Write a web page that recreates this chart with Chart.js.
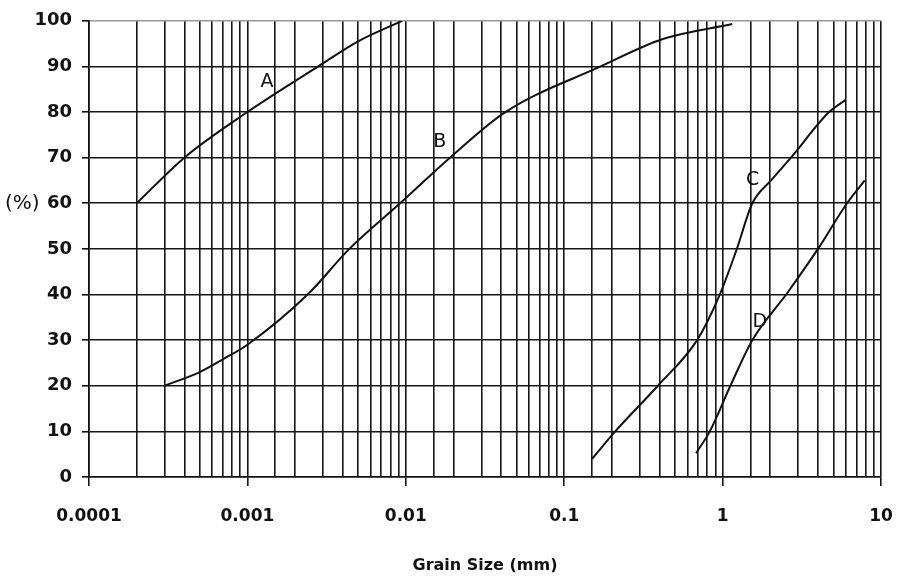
<!DOCTYPE html>
<html>
<head>
<meta charset="utf-8">
<script src="https://cdn.jsdelivr.net/npm/chart.js@4.4.0/dist/chart.umd.min.js"></script>
<style>
  html, body { margin: 0; padding: 0; background: #fff; }
  #wrap { width: 900px; height: 576px; }
</style>
</head>
<body>
<div id="wrap"><canvas id="chart"></canvas></div>
<script>
// grain size (mm) and percent finer
var sizeA = [0.0002, 0.0004, 0.001, 0.0028, 0.005, 0.0095];
var passA = [60, 70, 80, 90, 95.5, 100];

var sizeB = [0.0003, 0.0005, 0.0007, 0.001, 0.0024, 0.0044, 0.0092, 0.019, 0.0425, 0.17, 0.42, 1.15];
var passB = [20, 23, 25.8, 29, 40, 50, 60, 70, 80, 90, 96, 99.3];

var sizeC = [0.15, 0.21, 0.39, 0.69, 0.96, 1.23, 1.54, 2.02, 2.7, 4.7, 6.0];
var passC = [4, 10, 20, 30, 40, 50, 60, 65, 70, 80, 82.7];

var sizeD = [0.68, 0.83, 1.12, 1.54, 2.58, 4.0, 6.1, 7.9];
var passD = [5.2, 10, 20, 30, 40.5, 50, 60, 65];

// where the hand-written curve names sit
var curveNames = ['A', 'B', 'C', 'D'];
var nameSize = [0.00133, 0.0164, 1.55, 1.72];
var namePass = [86.6, 73.4, 65, 34];

var xMin = 0.0001, xMax = 10;
var yTicks = [0, 10, 20, 30, 40, 50, 60, 70, 80, 90, 100];

function toPoints(xs, ys) {
  return xs.map(function(x, i) { return { x: x, y: ys[i] }; });
}

function isDecade(v) {
  var l = Math.log10(v);
  return Math.abs(l - Math.round(l)) < 1e-9;
}

function curve(label, xs, ys) {
  return {
    label: label,
    data: toPoints(xs, ys),
    showLine: true,
    borderColor: '#111',
    borderWidth: 2,
    pointRadius: 0,
    cubicInterpolationMode: 'monotone'
  };
}

var extraText = {
  id: 'extraText',
  afterDatasetsDraw: function(chart) {
    var ctx = chart.ctx;
    var xs = chart.scales.x, ys = chart.scales.y;
    ctx.save();
    ctx.fillStyle = '#111';
    ctx.textAlign = 'center';
    ctx.textBaseline = 'middle';
    ctx.font = '19px "DejaVu Sans"';
    for (var i = 0; i < curveNames.length; i++) {
      ctx.fillText(curveNames[i], xs.getPixelForValue(nameSize[i]), ys.getPixelForValue(namePass[i]));
    }
    // (%) sits just left of the 60 label
    ctx.font = '20px "DejaVu Sans"';
    ctx.textAlign = 'left';
    ctx.fillText('(%)', 5, ys.getPixelForValue(60) + 1);
    ctx.restore();
  }
};

new Chart(document.getElementById('chart'), {
  type: 'scatter',
  data: {
    datasets: [
      curve('A', sizeA, passA),
      curve('B', sizeB, passB),
      curve('C', sizeC, passC),
      curve('D', sizeD, passD)
    ]
  },
  options: {
    responsive: true,
    maintainAspectRatio: false,
    animation: false,
    layout: { padding: { top: 15, right: 19, left: 0, bottom: 0 } },
    plugins: {
      legend: { display: false },
      tooltip: { enabled: false }
    },
    scales: {
      x: {
        type: 'logarithmic',
        min: xMin,
        max: xMax,
        afterFit: function(s) {
          s.height = 99;
          s.paddingLeft = 0;
          s.paddingRight = 0;
        },
        border: { display: true, color: '#111', width: 1.6 },
        grid: {
          color: '#151515',
          lineWidth: 1.6,
          tickLength: 9,
          tickColor: function(c) { return c.tick && isDecade(c.tick.value) ? '#111' : 'rgba(0,0,0,0)'; }
        },
        ticks: {
          autoSkip: false,
          maxRotation: 0,
          padding: 20,
          color: '#111',
          font: { family: 'DejaVu Sans', size: 17, weight: 'bold' },
          callback: function(v) {
            if (!isDecade(v)) return '';
            var l = Math.round(Math.log10(v));
            return l >= 0 ? String(Math.round(v)) : v.toFixed(-l);
          }
        },
        title: {
          display: true,
          text: 'Grain Size (mm)',
          color: '#111',
          padding: { top: 0, bottom: 1 },
          font: { family: 'DejaVu Sans', size: 16, weight: 'bold' }
        }
      },
      y: {
        min: 0,
        max: 100,
        afterFit: function(s) { s.width = 89; },
        afterBuildTicks: function(s) { s.ticks = yTicks.map(function(v) { return { value: v }; }); },
        border: { display: true, color: '#111', width: 1.6 },
        grid: {
          color: function(c) { return c.tick && c.tick.value === 100 ? '#999' : '#151515'; },
          lineWidth: 1.6,
          tickLength: 7,
          tickColor: '#111'
        },
        ticks: {
          padding: 10,
          color: '#111',
          font: { family: 'DejaVu Sans', size: 18, weight: 'bold' }
        }
      }
    }
  },
  plugins: [extraText]
});
</script>
</body>
</html>
